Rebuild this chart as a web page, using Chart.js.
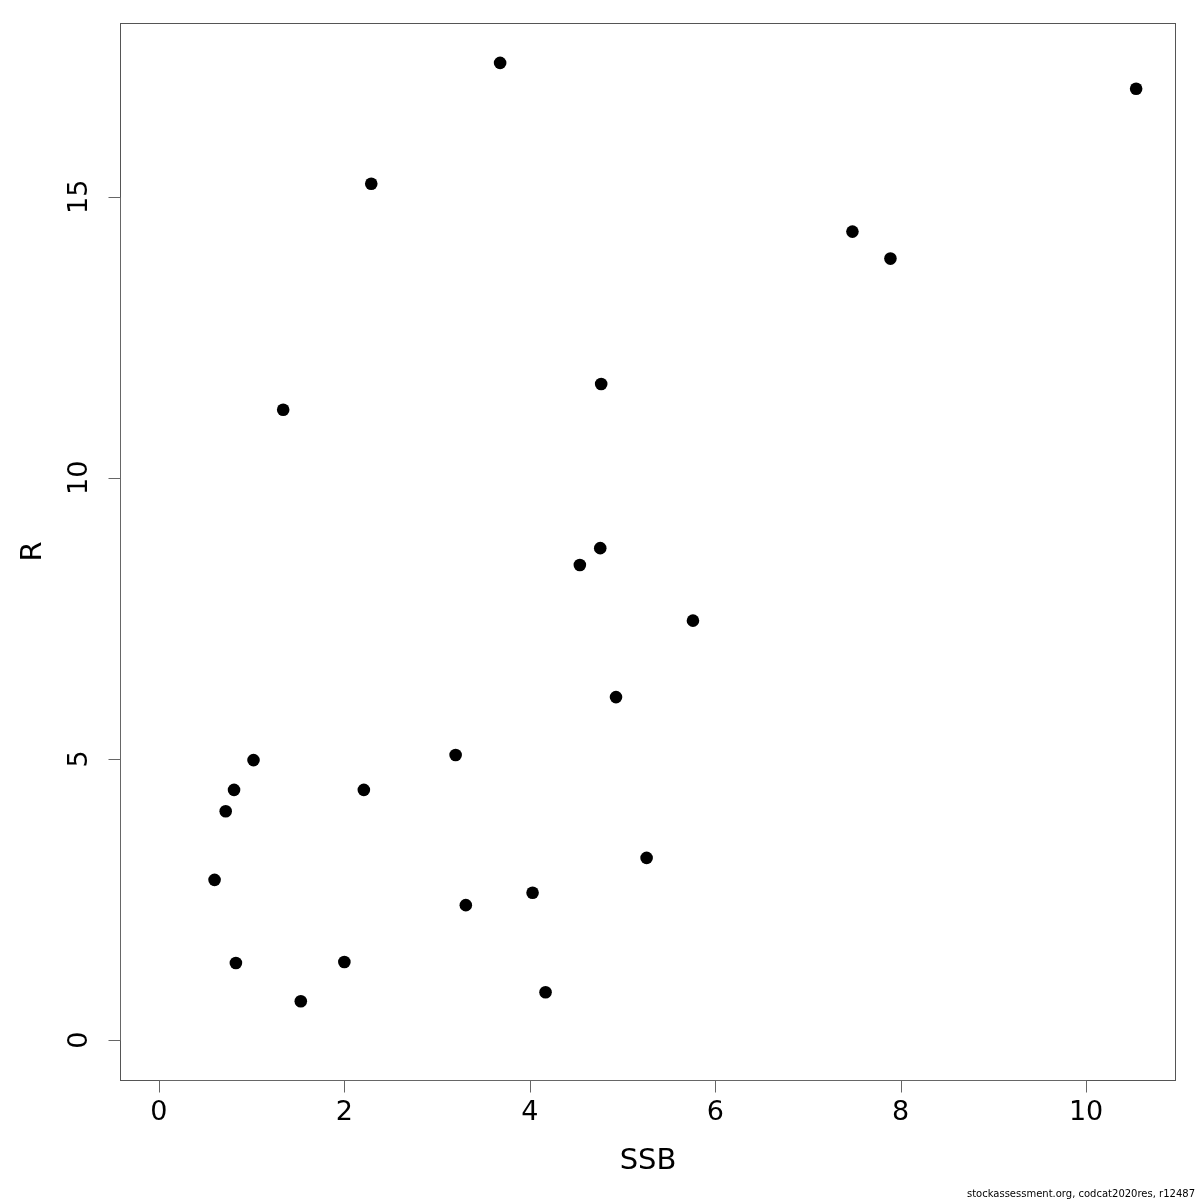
<!DOCTYPE html>
<html><head><meta charset="utf-8">
<script src="https://cdn.jsdelivr.net/npm/chart.js@4/dist/chart.umd.min.js"></script>
<style>html,body{margin:0;padding:0;background:#fff}#c{display:block}</style>
</head><body>
<canvas id="c" width="1200" height="1200"></canvas>
<script>
const ssb = [3.68,10.54,2.29,7.48,7.89,4.77,1.34,4.76,4.54,5.76,4.93,3.20,1.02,0.81,2.21,0.72,5.26,0.60,4.03,3.31,0.83,2.00,4.17,1.53];
const rec = [17.38,16.92,15.23,14.38,13.90,11.67,11.21,8.75,8.45,7.46,6.10,5.07,4.98,4.45,4.45,4.07,3.24,2.85,2.62,2.40,1.37,1.39,0.85,0.69];
const xTicks = [0,2,4,6,8,10];
const yTicks = [0,5,10,15];
const xTitle = "SSB";
const yTitle = "R";
const footer = "stockassessment.org, codcat2020res, r12487";

const points = ssb.map((x,i)=>({x:x,y:rec[i]}));
const FONT = "DejaVu Sans";

const rAxes = {
  id:'rAxes',
  afterDraw(chart){
    const ctx = chart.ctx, a = chart.chartArea;
    const xs = chart.scales.x, ys = chart.scales.y;
    ctx.save();
    ctx.strokeStyle = '#555'; ctx.lineWidth = 1;
    ctx.strokeRect(a.left+0.5, a.top+0.5, a.right-a.left-1, a.bottom-a.top);
    ctx.strokeStyle = '#666';
    const bx = Math.round(a.bottom)+0.5;
    ctx.beginPath();
    ctx.moveTo(Math.round(xs.getPixelForValue(xTicks[0]))+0.5, bx);
    ctx.lineTo(Math.round(xs.getPixelForValue(xTicks[xTicks.length-1]))+0.5, bx);
    xTicks.forEach(t=>{const p=Math.round(xs.getPixelForValue(t))+0.5; ctx.moveTo(p,bx); ctx.lineTo(p,bx+12);});
    ctx.stroke();
    const ly = Math.round(a.left)+0.5;
    ctx.beginPath();
    ctx.moveTo(ly, Math.round(ys.getPixelForValue(yTicks[0]))+0.5);
    ctx.lineTo(ly, Math.round(ys.getPixelForValue(yTicks[yTicks.length-1]))+0.5);
    yTicks.forEach(t=>{const p=Math.round(ys.getPixelForValue(t))+0.5; ctx.moveTo(ly,p); ctx.lineTo(ly-12,p);});
    ctx.stroke();
    ctx.fillStyle = '#000';
    ctx.font = '27px "'+FONT+'"';
    ctx.textAlign = 'center'; ctx.textBaseline = 'middle';
    xTicks.forEach(t=>ctx.fillText(String(t), xs.getPixelForValue(t), 1113));
    yTicks.forEach(t=>{
      ctx.save(); ctx.translate(80, ys.getPixelForValue(t)); ctx.rotate(-Math.PI/2);
      ctx.fillText(String(t),0,0); ctx.restore();
    });
    ctx.font = '29px "'+FONT+'"';
    ctx.fillText(xTitle, (a.left+a.right)/2, 1161);
    ctx.save(); ctx.translate(33,(a.top+a.bottom)/2); ctx.rotate(-Math.PI/2);
    ctx.fillText(yTitle,0,0); ctx.restore();
    ctx.font = '10px "'+FONT+'"';
    ctx.textAlign='right';
    ctx.fillText(footer, 1195, 1194);
    ctx.restore();
  }
};

new Chart(document.getElementById('c'), {
  type:'scatter',
  data:{datasets:[{data:points, backgroundColor:'#000', borderColor:'#000', pointRadius:6.3, pointHoverRadius:6.3, borderWidth:0}]},
  options:{
    responsive:false, animation:false, devicePixelRatio:1,
    layout:{padding:{left:120,top:23,right:24,bottom:120}},
    plugins:{legend:{display:false},tooltip:{enabled:false}},
    scales:{
      x:{type:'linear',min:-0.42,max:10.97,display:false},
      y:{type:'linear',min:-0.71,max:18.09,display:false}
    }
  },
  plugins:[rAxes]
});
</script>
</body></html>
